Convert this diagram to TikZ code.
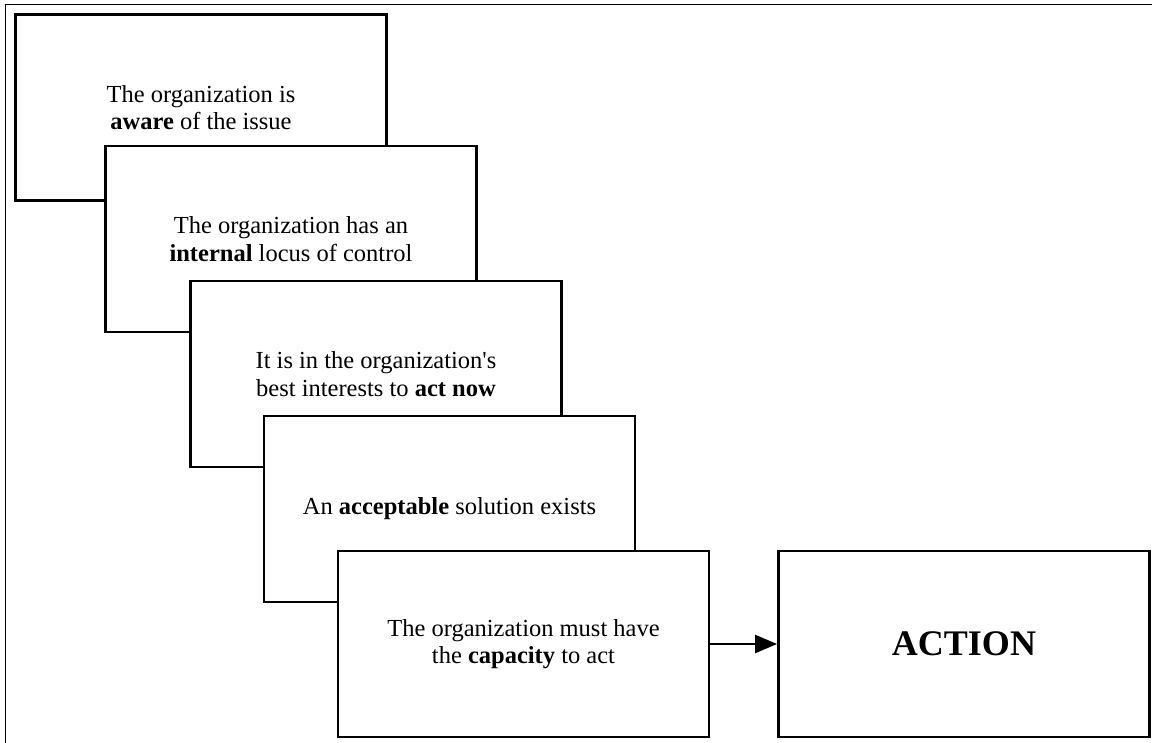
\documentclass[tikz,border=0pt]{standalone}
\usepackage{fontspec}
\setmainfont{Liberation Serif}
\usetikzlibrary{arrows.meta}
\newcommand\sq{\XeTeXglyph\XeTeXcharglyph"27\relax}
\begin{document}
\begin{tikzpicture}[x=1pt,y=-1pt,
  stage/.style={draw=black,line width=2.8pt,fill=white,minimum width=371pt,minimum height=186pt,
    inner sep=0pt,align=center,font=\fontsize{24.5}{27.5}\selectfont},
  conn/.style={line width=2.2pt,-{Triangle[length=22pt,width=18pt]}}]
\useasboundingbox (0,0) rectangle (1152,743);
\draw[line width=1pt] (5,760) -- (5,5) -- (1170,5);
\node[stage] (b1) at (201,107.5) {The organization is\\\textbf{aware} of the issue};
\node[stage] (b2) at (291,239) {The organization has an\\\textbf{internal} locus of control};
\node[stage] (b3) at (376,374) {It is in the organization\sq s\\best interests to \textbf{act now}};
\node[stage] (b4) at (449.5,509) {An \textbf{acceptable} solution exists};
\node[stage] (b5) at (523.5,644) {The organization must have\\the \textbf{capacity} to act};
\node[stage,font=\fontsize{36}{40}\selectfont\bfseries] (act) at (964,644) {ACTION};
\draw[conn] (b5.east) -- (act.west);
\end{tikzpicture}
\end{document}
